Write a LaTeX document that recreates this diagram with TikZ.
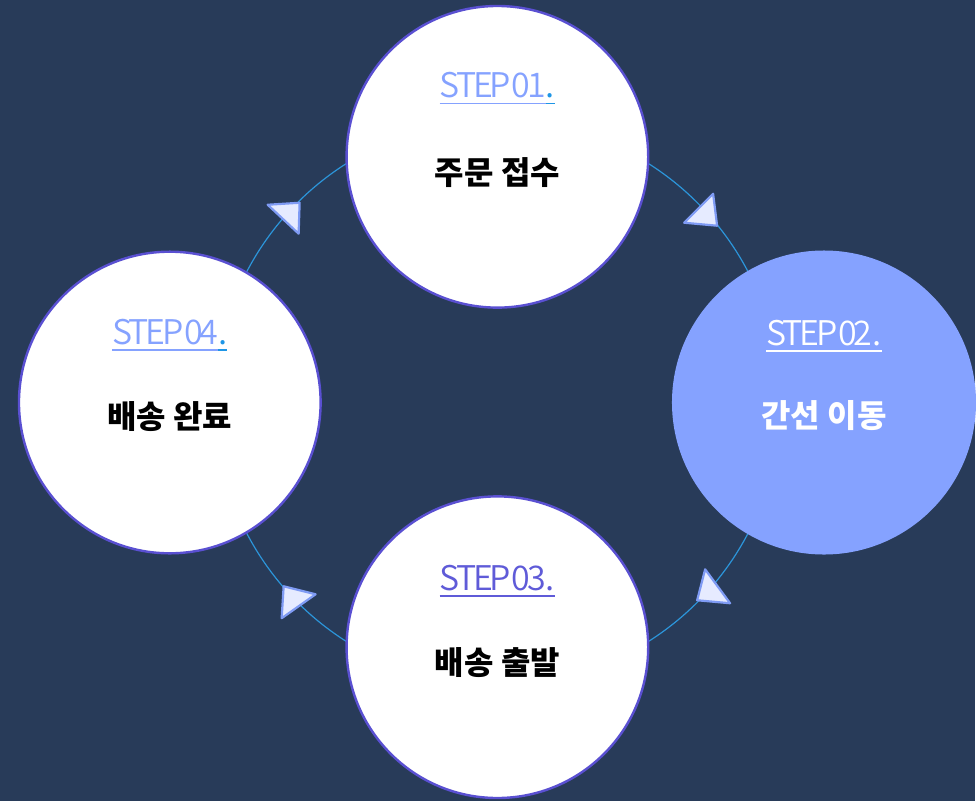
\documentclass[tikz,border=0pt]{standalone}
\usepackage{fontspec}
\usetikzlibrary{positioning}
\newfontfamily\kofont{Noto Sans CJK KR}
\newfontfamily\stepfont{Noto Sans CJK KR DemiLight}[LetterSpace=-9]

\definecolor{bgnavy}{HTML}{283B59}
\definecolor{ringblue}{HTML}{2C95DA}
\definecolor{rimpurple}{HTML}{5A50D2}
\definecolor{skyblue}{HTML}{85A2FF}
\definecolor{dotblue}{HTML}{1E96E6}
\definecolor{deeppurple}{HTML}{5F5BD8}
\definecolor{trifill}{HTML}{E6EBFF}
\definecolor{triedge}{HTML}{7F9BF4}

% underlined piece of a step title
\newcommand\ulpart[2]{{\color{#1}\setbox0\hbox{#2}\rlap{\rule[-6.5pt]{\wd0}{1.7pt}}\box0}}
\newcommand\steplabel[3]{\ulpart{#2}{STEP\hspace{-4pt} #1}\ulpart{#3}{.}}

\begin{document}
\begin{tikzpicture}[x=1pt,y=-1pt,
  stepcirc/.style={circle, draw=rimpurple, line width=2.4pt, fill=white,
    minimum size=302pt, inner sep=0pt},
  steptitle/.style={anchor=base, inner sep=0pt, font=\stepfont\fontsize{34}{34}\selectfont},
  stepname/.style={anchor=base, inner sep=0pt, font=\kofont\bfseries\fontsize{32}{32}\selectfont},
  arrowtri/.style={fill=trifill, draw=triedge, line width=2.2pt, line join=round}]

  \fill[bgnavy] (0,0) rectangle (976,802);

  % ring behind the steps
  \coordinate (ring) at (498,403);
  \draw[ringblue, line width=1.2pt] (ring) circle [radius=283pt];

  \node[stepcirc] (s1) at (498,157) {};
  \node[stepcirc, draw=skyblue, fill=skyblue] (s2) at (825,403) {};
  \node[stepcirc] (s3) at (498,648) {};
  \node[stepcirc] (s4) at (170,403) {};

  \node[steptitle] (t1) at ([yshift=59pt]s1.center) {\steplabel{01}{skyblue}{dotblue}};
  \node[steptitle] (t2) at ([yshift=57pt]s2.center) {\steplabel{02}{white}{white}};
  \node[steptitle] (t3) at ([yshift=57pt]s3.center) {\steplabel{03}{deeppurple}{deeppurple}};
  \node[steptitle] (t4) at ([yshift=58pt]s4.center) {\steplabel{04}{skyblue}{dotblue}};

  \node[stepname] (n1) at ([yshift=-28pt]s1.center) {주문 접수};
  \node[stepname, text=white] (n2) at ([yshift=-25pt]s2.center) {간선 이동};
  \node[stepname] (n3) at ([yshift=-27pt]s3.center) {배송 출발};
  \node[stepname] (n4) at ([yshift=-26pt]s4.center) {배송 완료};

  % arrowheads on the ring
  \draw[arrowtri] (685,223) -- (714,194) -- (718,226) -- cycle;
  \draw[arrowtri] (706,570) -- (731,604) -- (698,601) -- cycle;
  \draw[arrowtri] (316,595) -- (282,619) -- (284,587) -- cycle;
  \draw[arrowtri] (268,205) -- (300,203) -- (299,234) -- cycle;
\end{tikzpicture}
\end{document}
